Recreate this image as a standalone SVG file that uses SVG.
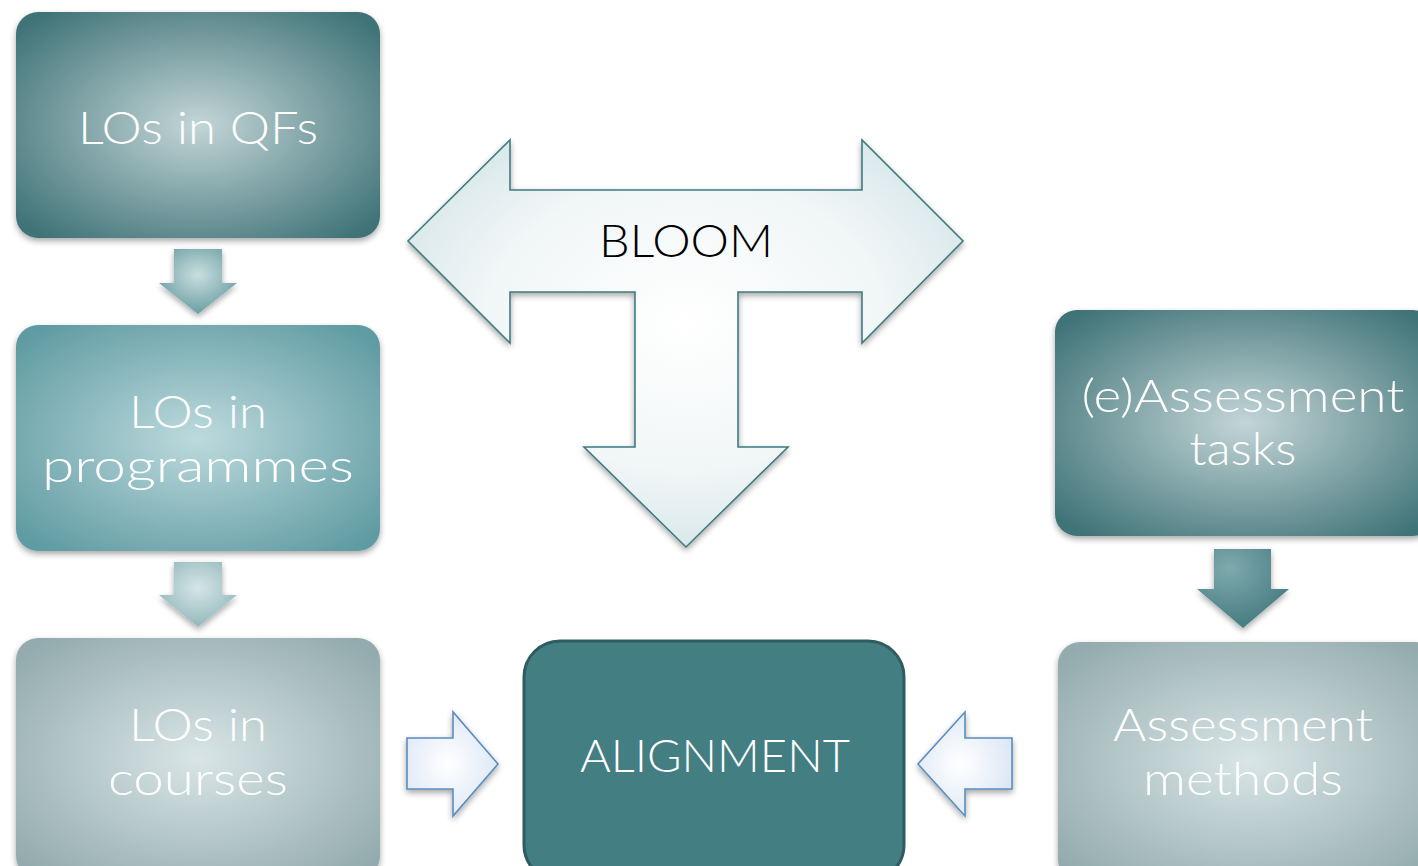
<svg xmlns="http://www.w3.org/2000/svg" width="1418" height="866" viewBox="0 0 1418 866">
<style>
.lbl{font-family:Lato,"Open Sans","Liberation Sans",sans-serif;font-weight:300;fill:#ffffff;text-anchor:middle}
.big{font-size:45px}
.blk{font-family:Lato,"Open Sans","Liberation Sans",sans-serif;font-weight:300;fill:#000;text-anchor:middle;font-size:46px}
.bloom{stroke:#3f7b80;stroke-width:1.6;fill:url(#gBloom)}
.blue{stroke:#5a8dc0;stroke-width:1.6;fill:url(#gBlue)}
</style>
<defs>
<radialGradient id="gDark" cx="50%" cy="50%" r="65%"><stop offset="0" stop-color="#c3d5d7"/><stop offset="1" stop-color="#3f7377"/></radialGradient>
<radialGradient id="gMid" cx="50%" cy="50%" r="65%"><stop offset="0" stop-color="#bddadd"/><stop offset="1" stop-color="#5f9ba2"/></radialGradient>
<radialGradient id="gLight" cx="50%" cy="50%" r="65%"><stop offset="0" stop-color="#d9e5e6"/><stop offset="1" stop-color="#93abae"/></radialGradient>
<radialGradient id="gA1" cx="50%" cy="40%" r="60%"><stop offset="0" stop-color="#cadedf"/><stop offset="1" stop-color="#6a9ea3"/></radialGradient>
<radialGradient id="gA2" cx="50%" cy="40%" r="60%"><stop offset="0" stop-color="#d6e5e7"/><stop offset="1" stop-color="#93b8bc"/></radialGradient>
<radialGradient id="gA3" cx="35%" cy="25%" r="70%"><stop offset="0" stop-color="#7fa9ad"/><stop offset="1" stop-color="#4a7f84"/></radialGradient>
<radialGradient id="gBloom" cx="50%" cy="45%" r="60%"><stop offset="0" stop-color="#ffffff"/><stop offset="0.6" stop-color="#f1f6f7"/><stop offset="1" stop-color="#d4e5e8"/></radialGradient>
<radialGradient id="gBlue" cx="45%" cy="50%" r="60%"><stop offset="0" stop-color="#ffffff"/><stop offset="1" stop-color="#dbe6f5"/></radialGradient>
<filter id="sh" x="-10%" y="-10%" width="120%" height="125%"><feGaussianBlur in="SourceAlpha" stdDeviation="3"/><feOffset dx="0" dy="3" result="b"/><feComponentTransfer><feFuncA type="linear" slope="0.35"/></feComponentTransfer><feMerge><feMergeNode/><feMergeNode in="SourceGraphic"/></feMerge></filter>
</defs>
<rect width="1418" height="866" fill="#ffffff"/>

<g id="connectors">
<path d="M174,249 H222 V283 H237 L198,314 L159,283 H174 Z" fill="url(#gA1)" filter="url(#sh)"/>
<path d="M174,562 H222 V595 H237 L198,627 L159,595 H174 Z" fill="url(#gA2)" filter="url(#sh)"/>
<path d="M1214,549 H1271 V589 H1289 L1243,628 L1197,589 H1214 Z" fill="url(#gA3)" filter="url(#sh)"/>
<path class="blue" d="M407,738 H453 V712 L498,764 L453,816 V789 H407 Z" filter="url(#sh)"/>
<path class="blue" d="M1012,738 H965 V712 L918,764 L965,816 V789 H1012 Z" filter="url(#sh)"/>
</g>

<g id="bloom">
<path class="bloom" filter="url(#sh)" d="M408,241 L510,140 V190 H862 V140 L963,241 L862,343 V292 H738 V447 H788 L686,547 L584,447 H635 V292 H510 V343 Z"/>
<text class="blk" x="686" y="257" textLength="174" lengthAdjust="spacingAndGlyphs">BLOOM</text>
</g>

<g id="n1">
<rect x="16" y="12" width="364" height="226" rx="22" fill="url(#gDark)" filter="url(#sh)"/>
<text class="lbl big" x="198" y="144" textLength="240" lengthAdjust="spacingAndGlyphs">LOs in QFs</text>
</g>
<g id="n2">
<rect x="16" y="325" width="364" height="226" rx="22" fill="url(#gMid)" filter="url(#sh)"/>
<text class="lbl big" x="198" y="428" textLength="138" lengthAdjust="spacingAndGlyphs">LOs in</text>
<text class="lbl big" x="198" y="482" textLength="312" lengthAdjust="spacingAndGlyphs">programmes</text>
</g>
<g id="n3">
<rect x="16" y="638" width="364" height="240" rx="22" fill="url(#gLight)" filter="url(#sh)"/>
<text class="lbl big" x="198" y="741" textLength="138" lengthAdjust="spacingAndGlyphs">LOs in</text>
<text class="lbl big" x="198" y="795" textLength="180" lengthAdjust="spacingAndGlyphs">courses</text>
</g>
<g id="n4">
<rect x="524" y="641" width="380" height="240" rx="36" fill="#437e83" stroke="#2e5c60" stroke-width="3"/>
<text class="lbl big" x="715" y="772" textLength="270" lengthAdjust="spacingAndGlyphs">ALIGNMENT</text>
</g>
<g id="n5">
<rect x="1055" y="310" width="380" height="226" rx="22" fill="url(#gDark)" filter="url(#sh)"/>
<text class="lbl big" x="1243" y="412" textLength="323" lengthAdjust="spacingAndGlyphs">(e)Assessment</text>
<text class="lbl big" x="1243" y="465" textLength="107" lengthAdjust="spacingAndGlyphs">tasks</text>
</g>
<g id="n6">
<rect x="1058" y="642" width="380" height="240" rx="22" fill="url(#gLight)" filter="url(#sh)"/>
<text class="lbl big" x="1243" y="741" textLength="260" lengthAdjust="spacingAndGlyphs">Assessment</text>
<text class="lbl big" x="1243" y="795" textLength="200" lengthAdjust="spacingAndGlyphs">methods</text>
</g>
</svg>
